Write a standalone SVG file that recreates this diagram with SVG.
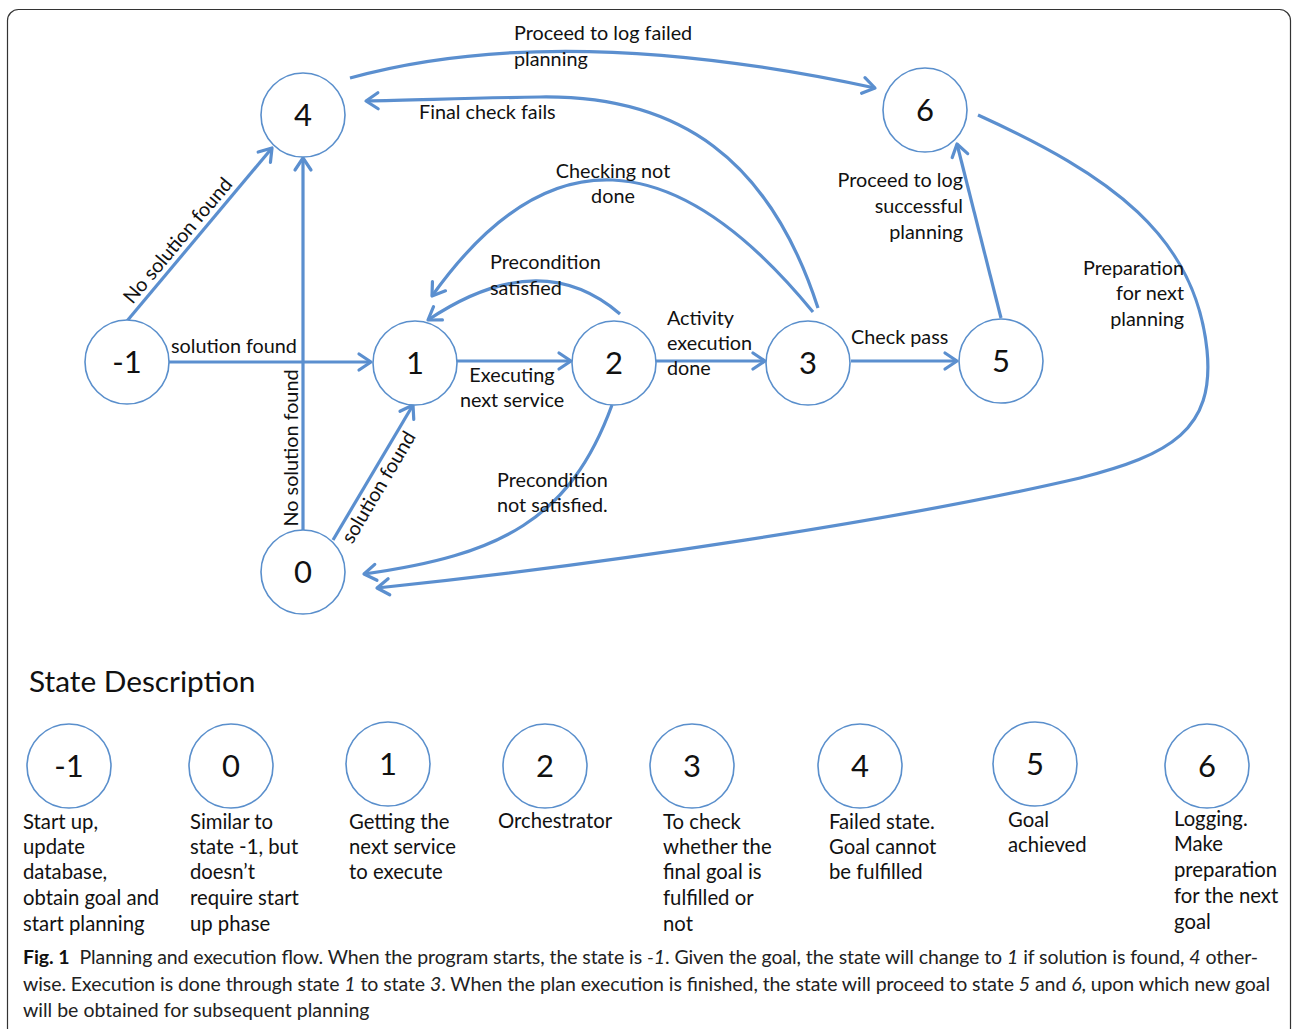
<svg xmlns="http://www.w3.org/2000/svg" width="1292" height="1029" viewBox="0 0 1292 1029">
<style>
.frame{fill:none;stroke:#333;stroke-width:1.2}
.node circle{fill:#fff;stroke:#5a8fcc;stroke-width:1.6}
.num{font-family:Lato,"Liberation Sans",sans-serif;font-size:31px;fill:#111;text-anchor:middle}
.lbl{font-family:Lato,"Liberation Sans",sans-serif;font-size:19.8px;fill:#111}
.mid{text-anchor:middle}
.end{text-anchor:end}
.edge{fill:none;stroke:#5b8fcf;stroke-width:3.2;marker-end:url(#arr)}
.title{font-family:Lato,"Liberation Sans",sans-serif;font-size:29.8px;fill:#111}
.desc{font-family:Lato,"Liberation Sans",sans-serif;font-size:20.3px;fill:#111}
.cap{font-family:Lato,"Liberation Sans",sans-serif;font-size:19.5px;fill:#222}
</style>
<defs>
<marker id="arr" markerUnits="userSpaceOnUse" markerWidth="24" markerHeight="24" viewBox="-15 -12 18 24" refX="0" refY="0" orient="auto">
<path d="M-12,-8 L0,0 L-12,8" fill="none" stroke="#5b8fcf" stroke-width="3.2" stroke-linecap="round" stroke-linejoin="round"/>
</marker>
</defs>
<rect class="frame" x="7.5" y="9.5" width="1283" height="1030" rx="11"/>

<g id="connectors">
<path class="edge" d="M127,321 L272,148"/>
<path class="edge" d="M169,362 L371,362"/>
<path class="edge" d="M303,530 L303,158"/>
<path class="edge" d="M333,540 L413,405"/>
<path class="edge" d="M457,361 L571,361"/>
<path class="edge" d="M620,314 Q540,245 428,320"/>
<path class="edge" d="M656,361 L765,361"/>
<path class="edge" d="M813,312 Q603,56 432,296"/>
<path class="edge" d="M818,308 C770,160 680,95 540,97 C470,98 420,100 366,101"/>
<path class="edge" d="M350,78 Q560,20 875,88"/>
<path class="edge" d="M851,361 L957,361"/>
<path class="edge" d="M1001,318 L957,144"/>
<path class="edge" d="M978,115 C1110,175 1195,235 1207,350 C1215,430 1170,455 1080,478 C900,520 600,565 377,588"/>
<path class="edge" d="M612,405 C570,520 500,555 364,574"/>
</g>

<g id="edge-labels">
<text class="lbl mid" transform="translate(187.5,248.8) rotate(-50)" y="-6">No solution found</text>
<text class="lbl" x="171" y="353">solution found</text>
<text class="lbl mid" transform="translate(298,448) rotate(-90)">No solution found</text>
<text class="lbl mid" transform="translate(368,481) rotate(-59.4)" y="19">solution found</text>
<text class="lbl mid" x="512" y="382">Executing</text>
<text class="lbl mid" x="512" y="407">next service</text>
<text class="lbl" x="490" y="269">Precondition</text>
<text class="lbl" x="490" y="295">satisfied</text>
<text class="lbl" x="667" y="325">Activity</text>
<text class="lbl" x="667" y="350">execution</text>
<text class="lbl" x="667" y="375">done</text>
<text class="lbl mid" x="613" y="178">Checking not</text>
<text class="lbl mid" x="613" y="203">done</text>
<text class="lbl" x="419" y="119">Final check fails</text>
<text class="lbl" x="514" y="40">Proceed to log failed</text>
<text class="lbl" x="514" y="66">planning</text>
<text class="lbl" x="851" y="344">Check pass</text>
<text class="lbl end" x="963" y="187">Proceed to log</text>
<text class="lbl end" x="963" y="213">successful</text>
<text class="lbl end" x="963" y="239">planning</text>
<text class="lbl end" x="1184" y="275">Preparation</text>
<text class="lbl end" x="1184" y="300">for next</text>
<text class="lbl end" x="1184" y="326">planning</text>
<text class="lbl" x="497" y="487">Precondition</text>
<text class="lbl" x="497" y="512">not satisfied.</text>
</g>

<g id="node-m1" class="node"><circle cx="127" cy="362" r="42"/><text class="num" x="127" y="373">-1</text></g>
<g id="node-4" class="node"><circle cx="303" cy="115" r="42"/><text class="num" x="303" y="126">4</text></g>
<g id="node-1" class="node"><circle cx="415" cy="363" r="42"/><text class="num" x="415" y="374">1</text></g>
<g id="node-2" class="node"><circle cx="614" cy="363" r="42"/><text class="num" x="614" y="374">2</text></g>
<g id="node-3" class="node"><circle cx="808" cy="363" r="42"/><text class="num" x="808" y="374">3</text></g>
<g id="node-5" class="node"><circle cx="1001" cy="361" r="42"/><text class="num" x="1001" y="372">5</text></g>
<g id="node-6" class="node"><circle cx="925" cy="110" r="42"/><text class="num" x="925" y="121">6</text></g>
<g id="node-0" class="node"><circle cx="303" cy="572" r="42"/><text class="num" x="303" y="583">0</text></g>

<text class="title" x="29" y="692">State Description</text>

<g id="legend-m1" class="node"><circle cx="69" cy="766" r="42"/><text class="num" x="69" y="777">-1</text>
<text class="desc"><tspan x="23" y="829">Start up,</tspan><tspan x="23" y="854">update</tspan><tspan x="23" y="879">database,</tspan><tspan x="23" y="905">obtain goal and</tspan><tspan x="23" y="931">start planning</tspan></text></g>
<g id="legend-0" class="node"><circle cx="231" cy="766" r="42"/><text class="num" x="231" y="777">0</text>
<text class="desc"><tspan x="190" y="829">Similar to</tspan><tspan x="190" y="854">state -1, but</tspan><tspan x="190" y="879">doesn’t</tspan><tspan x="190" y="905">require start</tspan><tspan x="190" y="931">up phase</tspan></text></g>
<g id="legend-1" class="node"><circle cx="388" cy="764" r="42"/><text class="num" x="388" y="775">1</text>
<text class="desc"><tspan x="349" y="829">Getting the</tspan><tspan x="349" y="854">next service</tspan><tspan x="349" y="879">to execute</tspan></text></g>
<g id="legend-2" class="node"><circle cx="545" cy="766" r="42"/><text class="num" x="545" y="777">2</text>
<text class="desc"><tspan x="498" y="828">Orchestrator</tspan></text></g>
<g id="legend-3" class="node"><circle cx="692" cy="766" r="42"/><text class="num" x="692" y="777">3</text>
<text class="desc"><tspan x="663" y="829">To check</tspan><tspan x="663" y="854">whether the</tspan><tspan x="663" y="879">final goal is</tspan><tspan x="663" y="905">fulfilled or</tspan><tspan x="663" y="931">not</tspan></text></g>
<g id="legend-4" class="node"><circle cx="860" cy="766" r="42"/><text class="num" x="860" y="777">4</text>
<text class="desc"><tspan x="829" y="829">Failed state.</tspan><tspan x="829" y="854">Goal cannot</tspan><tspan x="829" y="879">be fulfilled</tspan></text></g>
<g id="legend-5" class="node"><circle cx="1035" cy="764" r="42"/><text class="num" x="1035" y="775">5</text>
<text class="desc"><tspan x="1008" y="827">Goal</tspan><tspan x="1008" y="852">achieved</tspan></text></g>
<g id="legend-6" class="node"><circle cx="1207" cy="766" r="42"/><text class="num" x="1207" y="777">6</text>
<text class="desc"><tspan x="1174" y="826">Logging.</tspan><tspan x="1174" y="851">Make</tspan><tspan x="1174" y="877">preparation</tspan><tspan x="1174" y="903">for the next</tspan><tspan x="1174" y="929">goal</tspan></text></g>

<g id="caption">
<text class="cap" x="23" y="964" textLength="1235" lengthAdjust="spacing"><tspan font-weight="bold" fill="#111">Fig. 1</tspan><tspan dx="10">Planning and execution flow. When the program starts, the state is </tspan><tspan font-style="italic">-1</tspan>. Given the goal, the state will change to <tspan font-style="italic">1</tspan> if solution is found, <tspan font-style="italic">4</tspan> other-</text>
<text class="cap" x="23" y="991" textLength="1247" lengthAdjust="spacing">wise. Execution is done through state <tspan font-style="italic">1</tspan> to state <tspan font-style="italic">3</tspan>. When the plan execution is finished, the state will proceed to state <tspan font-style="italic">5</tspan> and <tspan font-style="italic">6</tspan>, upon which new goal</text>
<text class="cap" x="23" y="1017">will be obtained for subsequent planning</text>
</g>
</svg>
